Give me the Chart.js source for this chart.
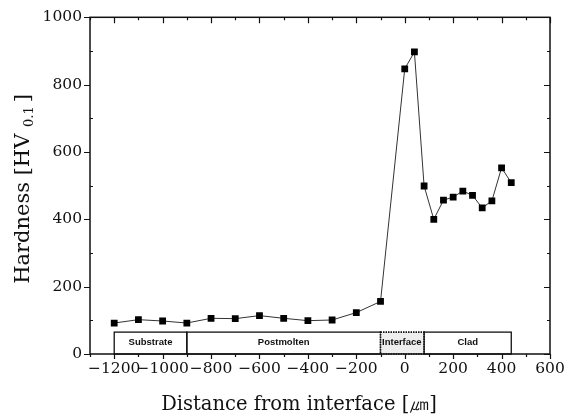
<!DOCTYPE html>
<html>
<head>
<meta charset="utf-8">
<script src="https://cdn.jsdelivr.net/npm/chart.js@4"></script>
<style>
html,body{margin:0;padding:0;background:#fff;}
#wrap{width:567px;height:414px;}
</style>
</head>
<body>
<div id="wrap"><canvas id="c" width="567" height="414"></canvas></div>
<script>
const distance = [-1200,-1100,-1000,-900,-800,-700,-600,-500,-400,-300,-200,-100,0,40,80,120,160,200,240,280,320,360,400,440];
const hardness = [92,102,98,92,106,105,114,106,99,101,123,156,847,897,499,400,457,466,484,471,434,455,553,509];
const xTicks = [-1200,-1000,-800,-600,-400,-200,0,200,400,600];
const xMinorTicks = [-1300,-1100,-900,-700,-500,-300,-100,100,300,500];
const yTicks = [0,200,400,600,800,1000];
const yMinorTicks = [100,300,500,700,900];
const regionLabels = ['Substrate','Postmolten','Interface','Clad'];
const regionStart = [-1200,-900,-100,80];
const regionEnd = [-900,-100,80,440];
const regionHeight = 65;

const serif = '"DejaVu Serif", serif';

const framePlugin = {
  id: 'frame',
  beforeDatasetsDraw(chart) {
    const {ctx, scales: {x, y}} = chart;
    ctx.save();
    for (let i = 0; i < regionLabels.length; i++) {
      const x0 = x.getPixelForValue(regionStart[i]);
      const x1 = x.getPixelForValue(regionEnd[i]);
      const y0 = y.getPixelForValue(regionHeight);
      const y1 = y.getPixelForValue(0);
      ctx.lineWidth = 1.3;
      ctx.strokeStyle = '#111';
      if (regionLabels[i] === 'Interface') {
        ctx.fillStyle = '#eeeeee';
        ctx.fillRect(x0, y0, x1 - x0, y1 - y0);
        ctx.setLineDash([1.5, 1]);
        ctx.lineWidth = 1.6;
      } else {
        ctx.setLineDash([]);
      }
      ctx.strokeRect(x0, y0, x1 - x0, y1 - y0);
      ctx.setLineDash([]);
      ctx.save();
      ctx.beginPath();
      ctx.rect(x0 + 1, y0, x1 - x0 - 2, y1 - y0);
      ctx.clip();
      ctx.fillStyle = '#111';
      ctx.font = 'bold 9.5px "Liberation Sans", Arial, sans-serif';
      ctx.textBaseline = 'middle';
      if (regionLabels[i] === 'Interface') {
        ctx.textAlign = 'left';
        ctx.fillText(regionLabels[i], x0 + 1.5, (y0 + y1) / 2 - 1);
      } else {
        ctx.textAlign = 'center';
        ctx.fillText(regionLabels[i], (x0 + x1) / 2, (y0 + y1) / 2 - 1);
      }
      ctx.restore();
    }
    ctx.restore();
  },
  afterDraw(chart) {
    const {ctx, chartArea: a, scales: {x, y}} = chart;
    ctx.save();
    ctx.strokeStyle = '#111';
    ctx.lineWidth = 1.5;
    ctx.strokeRect(a.left, a.top, a.right - a.left, a.bottom - a.top);
    ctx.lineWidth = 1.2;
    ctx.beginPath();
    xTicks.forEach(v => {
      const px = Math.round(x.getPixelForValue(v)) + 0.5;
      ctx.moveTo(px, a.bottom); ctx.lineTo(px, a.bottom + 5);
      ctx.moveTo(px, a.top); ctx.lineTo(px, a.top + 6);
    });
    xMinorTicks.forEach(v => {
      const px = Math.round(x.getPixelForValue(v)) + 0.5;
      ctx.moveTo(px, a.bottom); ctx.lineTo(px, a.bottom + 3);
      ctx.moveTo(px, a.top); ctx.lineTo(px, a.top + 3);
    });
    yTicks.forEach(v => {
      const py = Math.round(y.getPixelForValue(v)) + 0.5;
      ctx.moveTo(a.left - 6, py); ctx.lineTo(a.left, py);
      ctx.moveTo(a.right, py); ctx.lineTo(a.right - 6, py);
    });
    yMinorTicks.forEach(v => {
      const py = Math.round(y.getPixelForValue(v)) + 0.5;
      ctx.moveTo(a.left, py); ctx.lineTo(a.left + 3, py);
      ctx.moveTo(a.right, py); ctx.lineTo(a.right - 3, py);
    });
    ctx.stroke();

    ctx.fillStyle = '#111';
    ctx.font = '19.5px ' + serif;
    ctx.textAlign = 'center';
    ctx.textBaseline = 'alphabetic';
    ctx.fillText('Distance from interface [㎛]', 299, 410);

    ctx.translate(29, 189);
    ctx.rotate(-Math.PI / 2);
    const main = 'Hardness [HV ';
    const sub = '0.1';
    const end = ']';
    const mainFont = '21px ' + serif;
    const subFont = '13px ' + serif;
    ctx.font = mainFont;
    const wMain = ctx.measureText(main).width;
    const wEnd = ctx.measureText(end).width;
    ctx.font = subFont;
    const wSub = ctx.measureText(sub).width;
    const total = wMain + wSub + 4 + wEnd;
    let cx = -total / 2;
    ctx.textAlign = 'left';
    ctx.font = mainFont;
    ctx.fillText(main, cx, 0);
    cx += wMain;
    ctx.font = subFont;
    ctx.fillText(sub, cx, 4);
    cx += wSub + 4;
    ctx.font = mainFont;
    ctx.fillText(end, cx, 0);
    ctx.restore();
  }
};

new Chart(document.getElementById('c'), {
  type: 'scatter',
  data: {
    datasets: [{
      data: distance.map((d, i) => ({x: d, y: hardness[i]})),
      showLine: true,
      borderColor: '#333',
      borderWidth: 1,
      backgroundColor: '#000',
      pointStyle: 'rect',
      pointRadius: 4.8,
      pointBorderWidth: 0,
      pointBackgroundColor: '#000'
    }]
  },
  options: {
    responsive: false,
    animation: false,
    layout: {padding: {top: 15, right: 17, left: 0, bottom: 0}},
    plugins: {legend: {display: false}, tooltip: {enabled: false}},
    scales: {
      x: {
        type: 'linear', min: -1300, max: 600,
        afterBuildTicks: s => { s.ticks = xTicks.map(v => ({value: v})); },
        afterFit: s => { s.height = 60; s.paddingLeft = 0; s.paddingRight = 0; },
        grid: {display: false, drawTicks: false},
        border: {display: false},
        ticks: {
          padding: 6,
          color: '#111',
          font: {family: serif, size: 15.5},
          maxRotation: 0,
          autoSkip: false,
          callback: v => (v < 0 ? '\u2212' + Math.abs(v) : String(v))
        }
      },
      y: {
        type: 'linear', min: 0, max: 1000,
        afterBuildTicks: s => { s.ticks = yTicks.map(v => ({value: v})); },
        afterFit: s => { s.width = 90; },
        grid: {display: false, drawTicks: false},
        border: {display: false},
        ticks: {
          padding: 8,
          color: '#111',
          font: {family: serif, size: 15.5},
          autoSkip: false,
          callback: v => String(v)
        }
      }
    }
  },
  plugins: [framePlugin]
});
</script>
</body>
</html>
